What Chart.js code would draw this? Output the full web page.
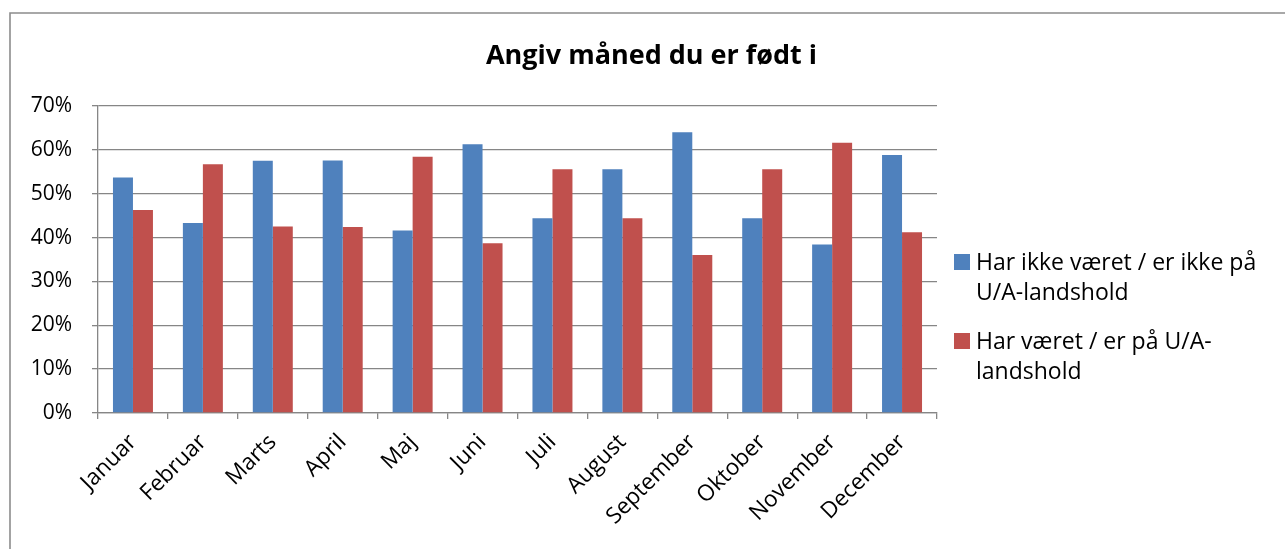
<!DOCTYPE html>
<html>
<head>
<meta charset="utf-8">
<script src="https://cdn.jsdelivr.net/npm/chart.js@4.4.1/dist/chart.umd.min.js"></script>
<style>
  html, body { margin: 0; padding: 0; background: #fff; }
  canvas { display: block; }
</style>
</head>
<body>
<canvas id="c" width="1285" height="549"></canvas>
<script>
const chartTitle = "Angiv måned du er født i";
const categories = ["Januar", "Februar", "Marts", "April", "Maj", "Juni", "Juli", "August", "September", "Oktober", "November", "December"];
const seriesNames = ["Har ikke været / er ikke på U/A-landshold", "Har været / er på U/A-landshold"];
const seriesNot = [53.7, 43.3, 57.5, 57.6, 41.6, 61.3, 44.4, 55.6, 64.0, 44.4, 38.4, 58.8];
const seriesYes = [46.3, 56.7, 42.5, 42.4, 58.4, 38.7, 55.6, 44.4, 36.0, 55.6, 61.6, 41.2];
const yTicks = [0, 10, 20, 30, 40, 50, 60, 70];
const seriesColors = ["#4F81BD", "#C0504D"];

const FONT = "'Open Sans', 'Noto Sans', sans-serif";
const GRID = "#868686";

function wrapWords(ctx, text, maxW) {
  const tokens = text.match(/[^\s-]+-?/g);
  const lines = [];
  let cur = "";
  for (const t of tokens) {
    const sep = cur === "" || cur.endsWith("-") ? "" : " ";
    const cand = cur + sep + t;
    if (cur !== "" && ctx.measureText(cand).width > maxW) {
      lines.push(cur);
      cur = t;
    } else {
      cur = cand;
    }
  }
  if (cur) lines.push(cur);
  return lines;
}

const framePlugin = {
  id: "frame",
  beforeDraw(chart) {
    const ctx = chart.ctx;
    ctx.save();
    ctx.fillStyle = "#fff";
    ctx.fillRect(0, 0, chart.width, chart.height);
    ctx.strokeStyle = "#8c8c8c";
    ctx.lineWidth = 1.6;
    ctx.beginPath();
    ctx.moveTo(10, chart.height + 2);
    ctx.lineTo(10, 13);
    ctx.lineTo(chart.width + 2, 13);
    ctx.stroke();
    ctx.restore();
  }
};

const legendPlugin = {
  id: "sideLegend",
  afterDraw(chart) {
    const ctx = chart.ctx;
    const area = chart.chartArea;
    ctx.save();
    ctx.font = "23px " + FONT;
    ctx.textBaseline = "middle";
    const x0 = area.right + 17;
    const lineH = 30;
    let y = area.top + 157;
    chart.data.datasets.forEach((ds) => {
      const lines = wrapWords(ctx, ds.label, 305);
      ctx.fillStyle = ds.backgroundColor;
      ctx.fillRect(x0, y - 9, 16, 16);
      ctx.fillStyle = "#000";
      lines.forEach((ln, j) => {
        ctx.fillText(ln, x0 + 22, y + j * lineH);
      });
      y += lines.length * lineH + 19;
    });
    ctx.restore();
  }
};

new Chart(document.getElementById("c"), {
  type: "bar",
  data: {
    labels: categories,
    datasets: [
      { label: seriesNames[0], data: seriesNot, backgroundColor: seriesColors[0], borderWidth: 0 },
      { label: seriesNames[1], data: seriesYes, backgroundColor: seriesColors[1], borderWidth: 0 }
    ]
  },
  options: {
    responsive: false,
    animation: false,
    events: [],
    categoryPercentage: 0.572,
    barPercentage: 1.0,
    layout: { padding: { left: 18, right: 0, top: 0, bottom: 0 } },
    plugins: {
      legend: { display: false },
      tooltip: { enabled: false },
      title: {
        display: true,
        text: chartTitle,
        color: "#000",
        font: { family: FONT, size: 27, weight: "bold", lineHeight: 1.2 },
        padding: { top: 40, bottom: 33.6 }
      }
    },
    scales: {
      x: {
        grid: { offset: true, drawOnChartArea: false, drawTicks: true, tickLength: 6, color: GRID, lineWidth: 1.3 },
        border: { color: GRID, width: 1.3 },
        ticks: { color: "#000", font: { family: FONT, size: 22.5 }, maxRotation: 45, minRotation: 45, padding: 10, autoSkip: false },
        afterFit(s) { s.height = 136; }
      },
      y: {
        min: 0,
        max: 70,
        afterBuildTicks(s) { s.ticks = yTicks.map(v => ({ value: v })); },
        grid: { color: GRID, lineWidth: 1.3, tickLength: 6, drawTicks: true },
        border: { color: GRID, width: 1.3 },
        ticks: { color: "#000", font: { family: FONT, size: 21 }, padding: 20, callback: v => v + "%" },
        afterFit(s) { s.width = 80; }
      },
      legendSpace: {
        type: "linear",
        position: "right",
        display: true,
        grid: { display: false, drawTicks: false },
        border: { display: false },
        ticks: { display: false },
        afterFit(s) { s.width = 348; }
      }
    }
  },
  plugins: [framePlugin, legendPlugin]
});
</script>
</body>
</html>
